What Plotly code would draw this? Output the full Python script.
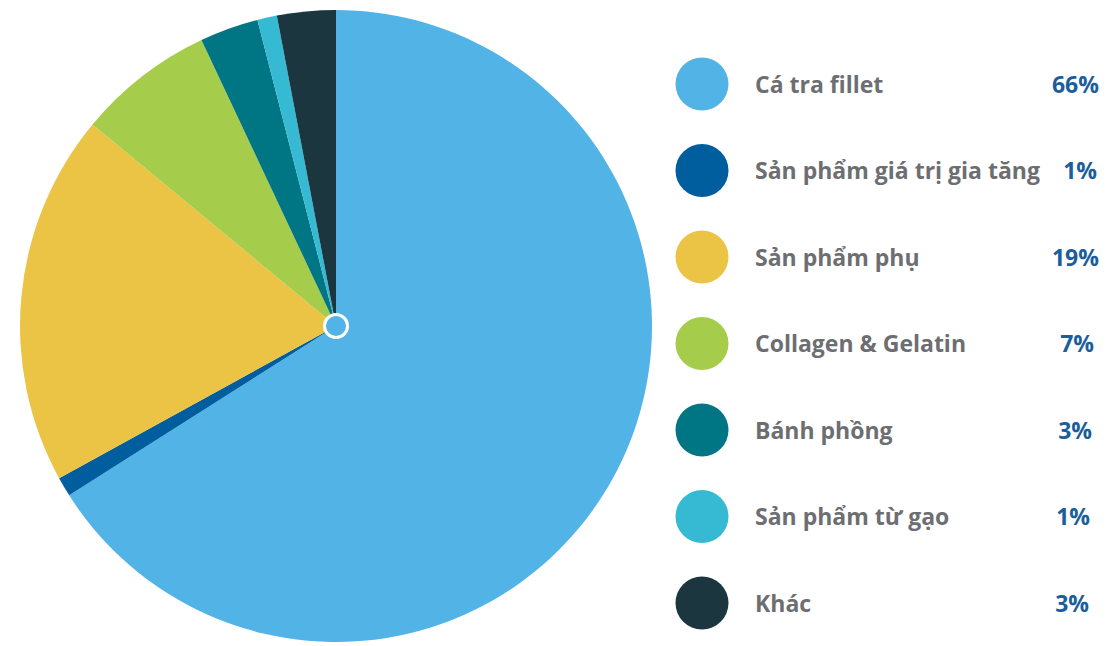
import plotly.graph_objects as go

categories = ["Cá tra fillet", "Sản phẩm giá trị gia tăng", "Sản phẩm phụ",
              "Collagen & Gelatin", "Bánh phồng", "Sản phẩm từ gạo", "Khác"]
values = [66, 1, 19, 7, 3, 1, 3]
pct_labels = ["66%", "1%", "19%", "7%", "3%", "1%", "3%"]
colors = ["#52B3E6", "#005E9E", "#EBC446", "#A6CC4B", "#007584", "#36BAD3", "#1B363F"]

W, H = 1109, 646
cx, cy, R = 336, 326, 316

fig = go.Figure()
fig.add_trace(go.Pie(
    labels=categories, values=values, sort=False, direction="clockwise", rotation=0,
    marker=dict(colors=colors, line=dict(width=0)),
    textinfo="none", hoverinfo="label+percent", showlegend=False,
    domain=dict(x=[(cx - R) / W, (cx + R) / W], y=[(H - cy - R) / H, (H - cy + R) / H]),
))

n = len(categories)
row_y = [84 + i * 86.5 for i in range(n)]
text_y = [y + 3 for y in row_y]
pct_right = [1099, 1097, 1099, 1094, 1092, 1090, 1089]

fig.add_trace(go.Scatter(
    x=[702] * n, y=row_y, mode="markers",
    marker=dict(size=53, color=colors, line=dict(width=0)),
    hoverinfo="skip", showlegend=False,
))
fig.add_trace(go.Scatter(
    x=[755] * n, y=text_y, mode="text", text=categories,
    textposition="middle right",
    textfont=dict(family="Open Sans", size=23, color="#6D6E71", weight="bold"),
    hoverinfo="skip", showlegend=False,
))
fig.add_trace(go.Scatter(
    x=pct_right, y=text_y, mode="text", text=pct_labels,
    textposition="middle left",
    textfont=dict(family="Open Sans", size=23, color="#1A5E9B", weight="bold"),
    hoverinfo="skip", showlegend=False,
))

fig.add_shape(type="circle", xref="x", yref="y", x0=cx - 11.5, x1=cx + 11.5, y0=cy - 11.5, y1=cy + 11.5,
              line=dict(color="white", width=3), fillcolor=colors[0], layer="above")

fig.update_layout(
    width=W, height=H, margin=dict(l=0, r=0, t=0, b=0),
    paper_bgcolor="white", plot_bgcolor="rgba(0,0,0,0)",
    xaxis=dict(range=[0, W], visible=False, fixedrange=True),
    yaxis=dict(range=[H, 0], visible=False, fixedrange=True),
)
fig.write_html("out.html", config={"displayModeBar": False},
               post_script="document.body.style.margin='0';document.body.style.overflow='hidden';")
